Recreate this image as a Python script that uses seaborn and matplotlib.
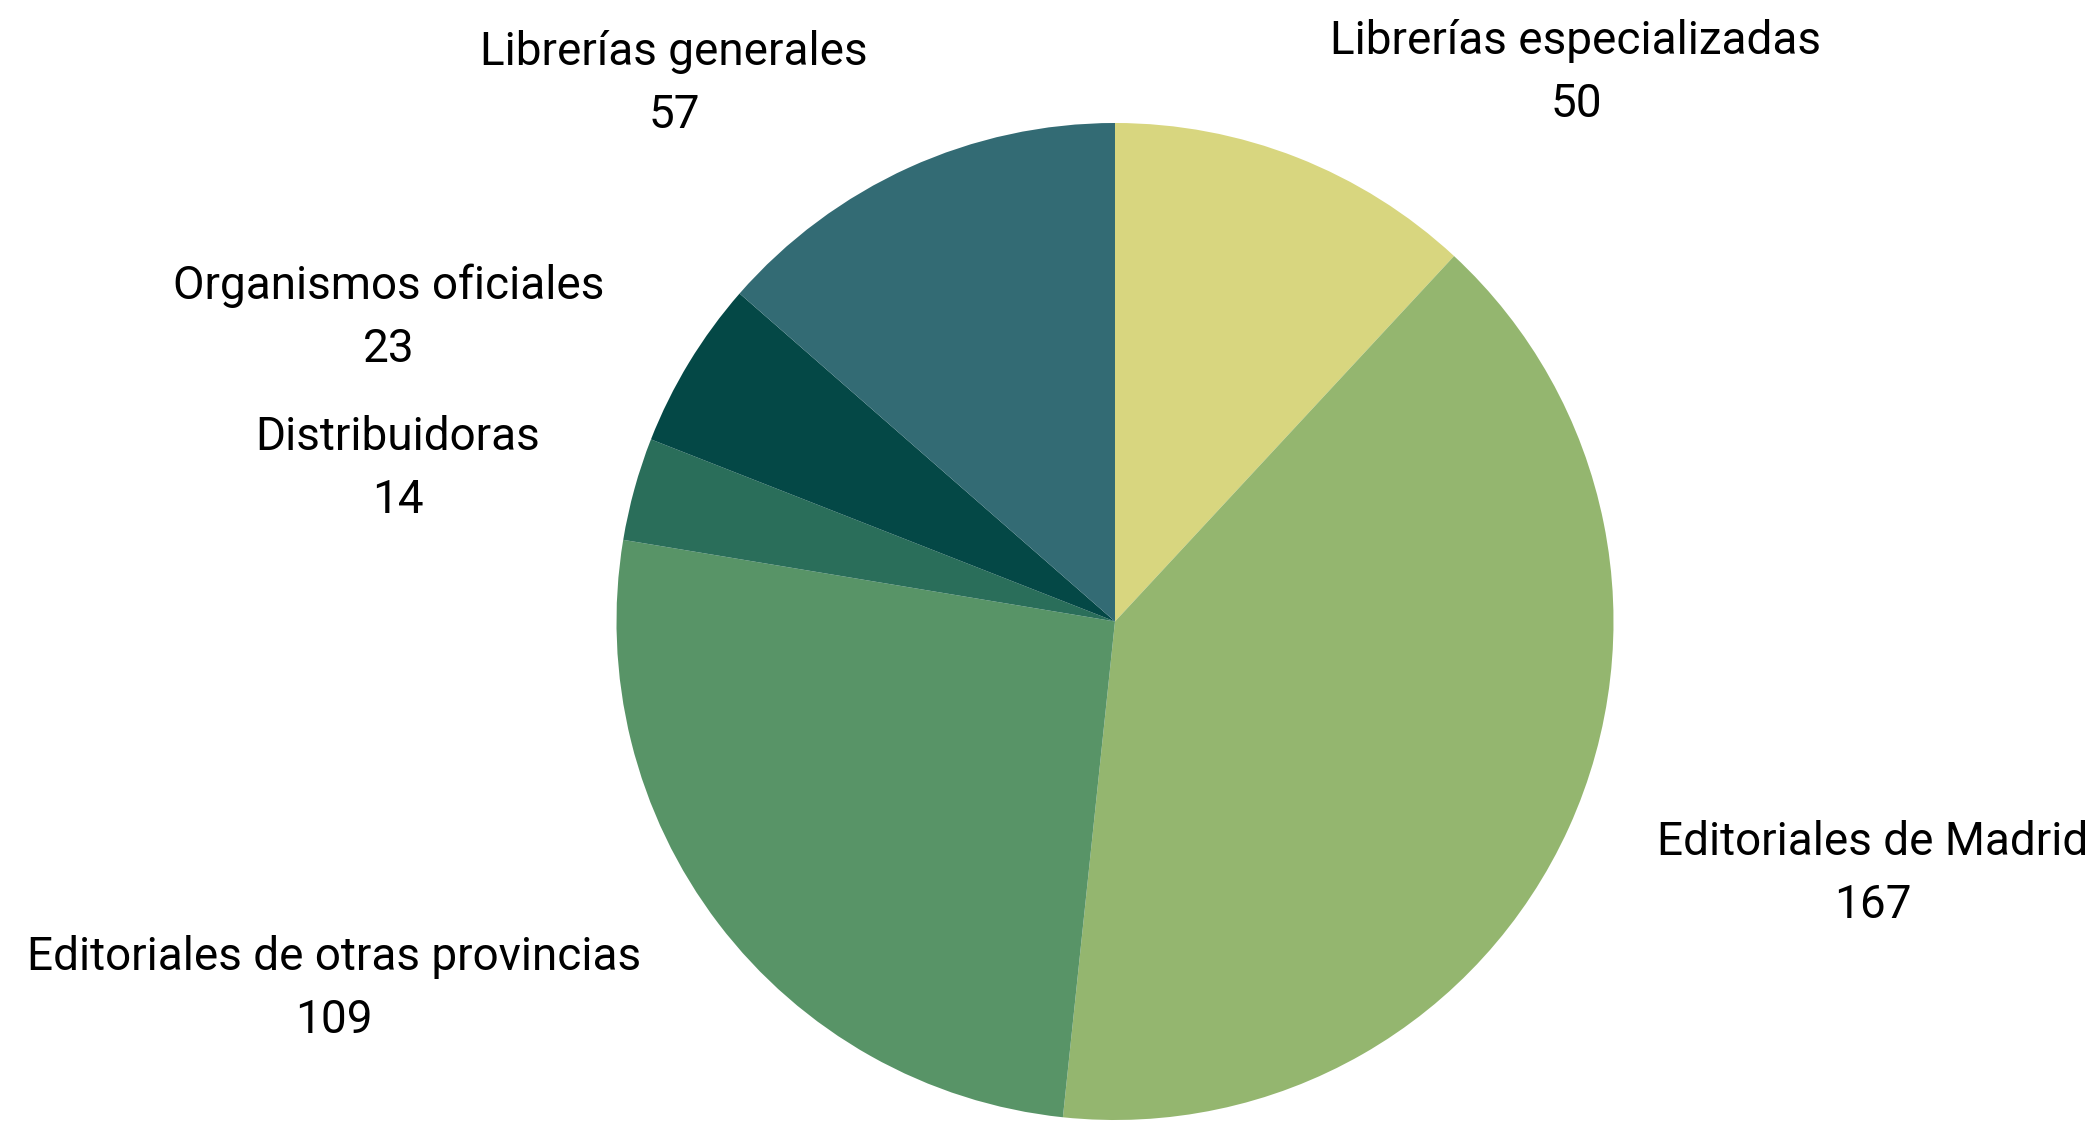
import matplotlib
matplotlib.use("Agg")
import matplotlib.pyplot as plt
import seaborn as sns

# data (clockwise from the top)
categories = ["Librerías especializadas", "Editoriales de Madrid",
              "Editoriales de otras provincias", "Distribuidoras",
              "Organismos oficiales", "Librerías generales"]
values = [50, 167, 109, 14, 23, 57]
colors = ["#d8d67f", "#94b66f", "#589467", "#2a6e5a", "#044846", "#336b74"]

# label anchor (pixel coords, y from top) for each slice
label_pos = [(1576, 41), (1873, 842), (334, 957), (398, 437), (389, 286), (674, 52)]

sns.set_theme(style="white")
plt.rcParams["font.family"] = ["Roboto", "DejaVu Sans"]

W, H = 2093, 1124
fig = plt.figure(figsize=(W / 100, H / 100), dpi=100)
ax = fig.add_axes([0, 0, 1, 1])

ax.pie(values, colors=colors, startangle=90, counterclock=False,
       center=(1115, H - 621.5), radius=498.5,
       wedgeprops=dict(linewidth=0), frame=True)
ax.set_xlim(0, W)
ax.set_ylim(0, H)
ax.set_aspect("equal")
ax.axis("off")

for name, val, (x, y) in zip(categories, values, label_pos):
    ax.text(x, H - y, name, ha="center", va="center", fontsize=33, color="black")
    ax.text(x, H - y - 63, str(val), ha="center", va="center", fontsize=33, color="black")

fig.savefig("out.png", dpi=100, facecolor="white")
